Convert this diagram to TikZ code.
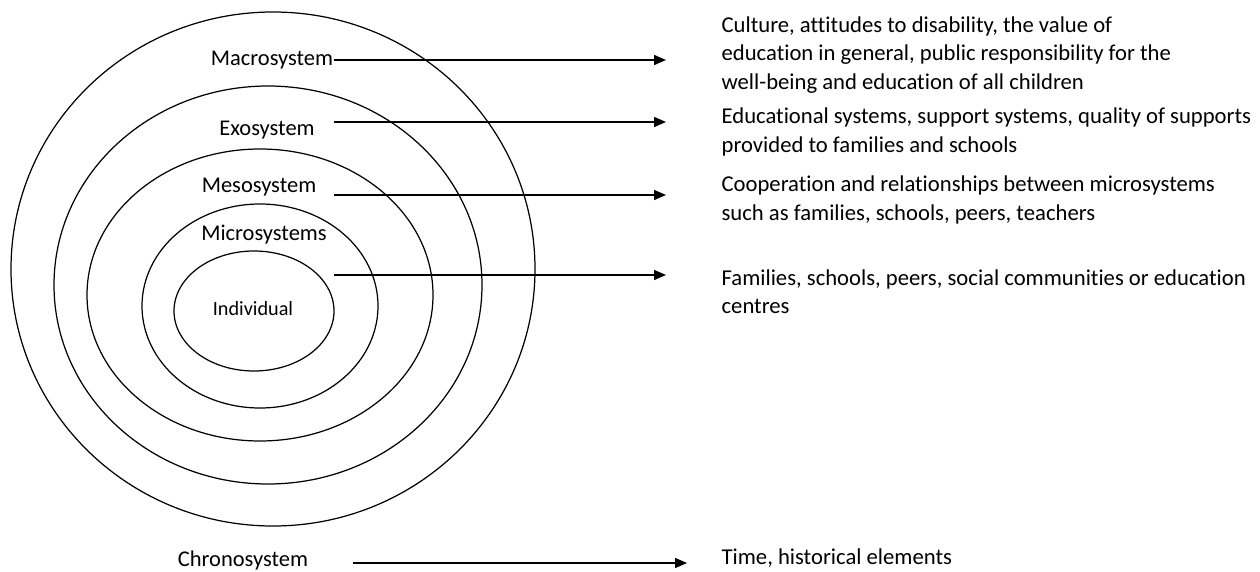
\documentclass[tikz,border=0pt]{standalone}
\usepackage{fontspec}
\setmainfont{Carlito}[Ligatures=NoCommon]
\usetikzlibrary{arrows.meta, positioning}

\tikzset{
  lbl/.style={inner sep=0pt, font=\fontsize{12.8}{15}\selectfont},
  desc/.style={anchor=west, align=left, inner sep=0pt, font=\fontsize{12.9}{16}\selectfont},
  arr/.style={-{Triangle[length=6.8pt, width=5.7pt]}, line width=0.7pt},
}

\begin{document}
\begin{tikzpicture}[x=0.02cm, y=-0.02cm, line width=0.7pt]
    \useasboundingbox (0,0) rectangle (1260,571);

    % nested systems
    \draw (273,269) ellipse [x radius=262, y radius=257];
    \draw (268,285) ellipse [x radius=214, y radius=199];
    \draw (260,295) ellipse [x radius=173, y radius=146];
    \draw (260,306) ellipse [x radius=118, y radius=102];
    \draw (254,311) ellipse [x radius=80, y radius=60];

    % system names
    \node[lbl] (macro) at (272,60) {Macrosystem};
    \node[lbl] (exo) at (267,130) {Exosystem};
    \node[lbl] (meso) at (259,187) {Mesosystem};
    \node[lbl] (micro) at (264,235) {Microsystems};
    \node[lbl, font=\fontsize{11.5}{13}\selectfont] (indiv) at (253,309) {Individual};
    \node[lbl] (chrono) at (243,560) {Chronosystem};

    % descriptions
    \node[desc] (dmacro) at (721,55) {Culture, attitudes to disability, the value of\\education in general, public responsibility for the\\well-being and education of all children};
    \node[desc] (dexo) at (721,132) {Educational systems, support systems, quality of supports\\provided to families and schools};
    \node[desc] (dmeso) at (721,200) {Cooperation and relationships between microsystems\\such as families, schools, peers, teachers};
    \node[desc] (dmicro) at (721,292) {Families, schools, peers, social communities or education\\centres};
    \node[desc] (dchrono) at (721,558) {Time, historical elements};

    % arrows
    \coordinate (e1) at (666,60);
    \draw[arr] (macro.east) -- (e1);
    \foreach \y [count=\i from 2] in {122,195,275} {
        \coordinate (s\i) at (334,\y);
        \coordinate (e\i) at (666,\y);
        \draw[arr] (s\i) -- (e\i);
    }
    \coordinate (s5) at (353,563);
    \coordinate (e5) at (687,563);
    \draw[arr] (s5) -- (e5);
\end{tikzpicture}
\end{document}
